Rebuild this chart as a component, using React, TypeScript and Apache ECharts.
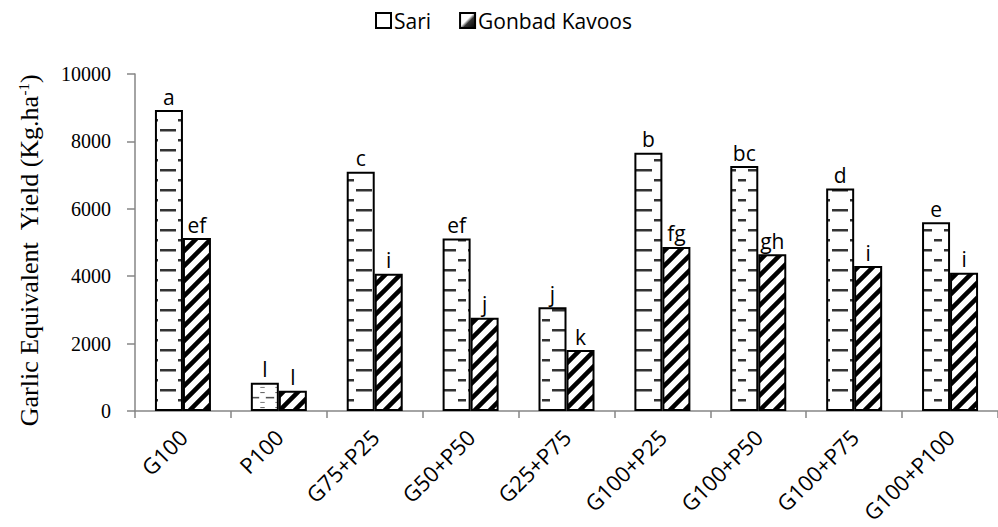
import React, { useEffect, useRef } from 'react';
import * as echarts from 'echarts';

const categories = ['G100', 'P100', 'G75+P25', 'G50+P50', 'G25+P75', 'G100+P25', 'G100+P50', 'G100+P75', 'G100+P100'];
const sariValues = [8930, 840, 7100, 5120, 3080, 7660, 7270, 6600, 5600];
const gonbadValues = [5130, 600, 4070, 2770, 1810, 4870, 4650, 4300, 4100];
const sariLetters = ['a', 'l', 'c', 'ef', 'j', 'b', 'bc', 'd', 'e'];
const gonbadLetters = ['ef', 'l', 'i', 'j', 'k', 'fg', 'gh', 'i', 'i'];
const seriesNames = ['Sari', 'Gonbad Kavoos'];
const yMin = 0;
const yMax = 10000;
const yStep = 2000;

const BAR_W = 28;

function makeSariTile(): HTMLCanvasElement {
  const c = document.createElement('canvas');
  c.width = 28;
  c.height = 20;
  const g = c.getContext('2d')!;
  g.fillStyle = '#ffffff';
  g.fillRect(0, 0, 28, 20);
  g.fillStyle = '#333333';
  g.fillRect(0, 9, 8, 2.5);
  g.fillRect(20, 9, 8, 2.5);
  g.fillRect(10, 19, 8, 1);
  g.fillRect(10, 0, 8, 1.5);
  return c;
}

function makeHatchTile(): HTMLCanvasElement {
  const s = 15;
  const c = document.createElement('canvas');
  c.width = s;
  c.height = s;
  const g = c.getContext('2d')!;
  g.fillStyle = '#ffffff';
  g.fillRect(0, 0, s, s);
  g.strokeStyle = '#000000';
  g.lineWidth = 4.5;
  g.beginPath();
  g.moveTo(-2, s + 2);
  g.lineTo(s + 2, -2);
  g.moveTo(-s / 2 - 2, s / 2 + 2);
  g.lineTo(s / 2 + 2, -s / 2 - 2);
  g.moveTo(s / 2 - 2, s * 1.5 + 2);
  g.lineTo(s * 1.5 + 2, s / 2 - 2);
  g.stroke();
  return c;
}

export default function App() {
  const ref = useRef<HTMLDivElement>(null);
  useEffect(() => {
    if (!ref.current) return;
    const chart = echarts.init(ref.current, undefined, { renderer: 'svg' });
    const sariTile = makeSariTile();
    const hatchTile = makeHatchTile();

    const labelStyle = {
      show: true,
      position: 'top' as const,
      distance: 3,
      fontFamily: 'Open Sans',
      fontSize: 21,
      color: '#000',
    };

    const baseOption: any = {
      animation: false,
      backgroundColor: '#ffffff',
      legend: {
        left: 370,
        top: 5,
        itemWidth: 15,
        itemHeight: 15,
        itemGap: 28,
        icon: 'rect',
        textStyle: { fontFamily: 'Open Sans', fontSize: 21, color: '#000', padding: [0, 0, 0, -2] },
        data: [
          { name: seriesNames[0], itemStyle: { color: '#ffffff', borderColor: '#000', borderWidth: 2 } },
          {
            name: seriesNames[1],
            itemStyle: {
              color: new echarts.graphic.LinearGradient(0, 0, 1, 1, [
                { offset: 0, color: '#ffffff' },
                { offset: 0.45, color: '#ffffff' },
                { offset: 0.6, color: '#333333' },
                { offset: 1, color: '#000000' },
              ]),
              borderColor: '#000',
              borderWidth: 2,
            },
          },
        ],
      },
      grid: { left: 135, top: 74, width: 871, bottom: 116, containLabel: false },
      xAxis: {
        type: 'category',
        data: categories,
        axisLine: { show: true, lineStyle: { color: '#868686', width: 1.5 } },
        axisTick: { show: true, length: 7, lineStyle: { color: '#868686', width: 1.5 } },
        axisLabel: {
          interval: 0,
          rotate: 45,
          margin: 22,
          fontFamily: 'Open Sans',
          fontSize: 22,
          color: '#000',
        },
      },
      yAxis: {
        type: 'value',
        min: yMin,
        max: yMax,
        interval: yStep,
        name: '{a|Garlic Equivalent  Yield (Kg.ha}{s|-1}{a|)}',
        nameLocation: 'middle',
        nameGap: 92,
        nameTextStyle: {
          padding: [0, 16, 0, 0],
          rich: {
            a: { fontFamily: 'Liberation Serif', fontSize: 26, color: '#000' },
            s: { fontFamily: 'Liberation Serif', fontSize: 15, color: '#000', verticalAlign: 'top', padding: [0, 0, 12, 0] },
          },
        },
        axisLine: { show: true, lineStyle: { color: '#868686', width: 1.5 } },
        axisTick: { show: true, length: 8, lineStyle: { color: '#868686', width: 1.5 } },
        splitLine: { show: false },
        axisLabel: {
          margin: 24,
          fontFamily: 'Liberation Serif',
          fontSize: 20,
          color: '#000',
          formatter: (v: number) => String(v),
        },
      },
      series: [
        {
          name: seriesNames[0],
          type: 'bar',
          barWidth: BAR_W,
          barGap: '0%',
          data: sariValues.map((v, i) => ({ value: v, label: { ...labelStyle, formatter: sariLetters[i] } })),
          itemStyle: { color: { image: sariTile, repeat: 'repeat' }, borderColor: '#000', borderWidth: 2 },
        },
        {
          name: seriesNames[1],
          type: 'bar',
          barWidth: BAR_W,
          barGap: '0%',
          data: gonbadValues.map((v, i) => ({ value: v, label: { ...labelStyle, formatter: gonbadLetters[i] } })),
          itemStyle: { color: { image: hatchTile, repeat: 'repeat' }, borderColor: '#000', borderWidth: 2 },
        },
      ],
    };
    chart.setOption(baseOption);

    // align the dash pattern with each Sari bar using the axis scale
    const sariData = sariValues.map((v, i) => {
      const cx = chart.convertToPixel({ xAxisIndex: 0 }, i) as number;
      const top = chart.convertToPixel({ yAxisIndex: 0 }, v) as number;
      const left = cx - BAR_W;
      return {
        value: v,
        label: { ...labelStyle, formatter: sariLetters[i] },
        itemStyle: { color: { image: sariTile, repeat: 'repeat', x: left, y: top } },
      };
    });
    chart.setOption({ series: [{ data: sariData }, {}] });

    return () => chart.dispose();
  }, []);
  return <div ref={ref} style={{ width: 998, height: 527, position: 'absolute', left: 0, top: 0 }} />;
}
